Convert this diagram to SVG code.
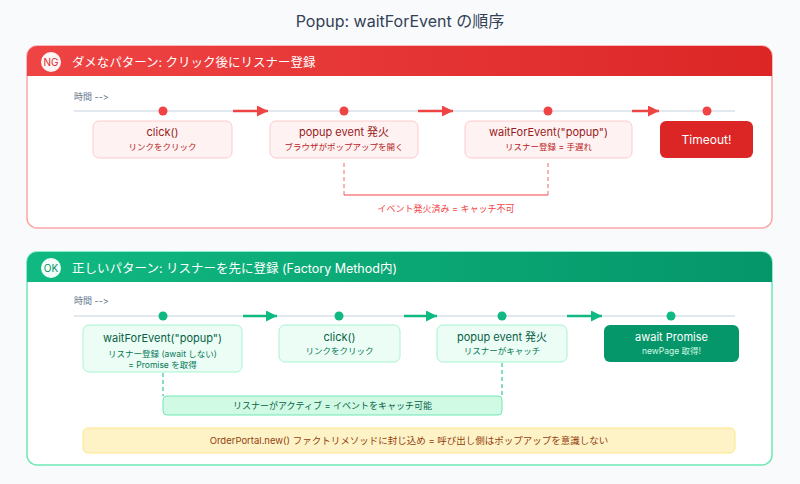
<svg xmlns="http://www.w3.org/2000/svg" width="800" height="484" viewBox="0 0 800 484">
<defs>
<linearGradient id="gNG" x1="0" y1="0" x2="1" y2="0"><stop offset="0" stop-color="#ef4444"/><stop offset="1" stop-color="#dc2626"/></linearGradient>
<linearGradient id="gOK" x1="0" y1="0" x2="1" y2="0"><stop offset="0" stop-color="#10b981"/><stop offset="1" stop-color="#059669"/></linearGradient>
<marker id="aR" viewBox="0 0 10 10" refX="10" refY="5" markerWidth="14" markerHeight="11" markerUnits="userSpaceOnUse" orient="auto"><path d="M0,0 L10,5 L0,10 z" fill="#ef4444"/></marker>
<marker id="aG" viewBox="0 0 10 10" refX="10" refY="5" markerWidth="14" markerHeight="11" markerUnits="userSpaceOnUse" orient="auto"><path d="M0,0 L10,5 L0,10 z" fill="#10b981"/></marker>
<clipPath id="cNG"><rect x="27" y="46" width="745" height="182" rx="10"/></clipPath>
<clipPath id="cOK"><rect x="27" y="252" width="745" height="213" rx="10"/></clipPath>
</defs>
<style>
text{font-family:Inter,"Noto Sans","Noto Sans CJK JP",sans-serif;font-variant-ligatures:none;font-feature-settings:"calt" 0,"liga" 0}
.t{font-size:16px;fill:#334155;text-anchor:middle}
.hd{font-size:12.5px;fill:#fff}
.bdg{font-size:10px;text-anchor:middle}
.time{font-size:9px;fill:#64748b}
.tl{stroke:#e2e8f0;stroke-width:2}
.nbox{fill:#fef2f2;stroke:#fecaca;stroke-width:1}
.obox{fill:#ecfdf5;stroke:#a7f3d0;stroke-width:1}
.nm{font-size:11px;fill:#991b1b;text-anchor:middle}
.ns{font-size:8.5px;fill:#b91c1c;text-anchor:middle}
.om{font-size:11px;fill:#065f46;text-anchor:middle}
.os{font-size:8.5px;fill:#047857;text-anchor:middle}
.ar{stroke:#ef4444;stroke-width:2.5;fill:none;marker-end:url(#aR)}
.ag{stroke:#10b981;stroke-width:2.5;fill:none;marker-end:url(#aG)}
</style>
<rect width="800" height="484" fill="#f8fafc"/>
<text class="t" x="400" y="27">Popup: waitForEvent の順序</text>

<g id="ng-panel">
<rect x="27" y="46" width="745" height="182" rx="10" fill="#fff" stroke="#fca5a5" stroke-width="1.5"/>
<rect x="27" y="46" width="745" height="30" fill="url(#gNG)" clip-path="url(#cNG)"/>
<circle cx="51" cy="62" r="10" fill="#fff" opacity="0.95"/>
<text class="bdg" x="51" y="65.5" fill="#dc2626">NG</text>
<text class="hd" x="72" y="67">ダメなパターン: クリック後にリスナー登録</text>
<text class="time" x="74" y="100">時間 --&gt;</text>
<line class="tl" x1="74" y1="111" x2="735" y2="111"/>
<g fill="#ef4444"><circle cx="163" cy="111" r="4.5"/><circle cx="344" cy="111" r="4.5"/><circle cx="548" cy="111" r="4.5"/><circle cx="707" cy="111" r="4.5"/></g>
</g>

<g id="ng-click"><rect class="nbox" x="93" y="121" width="139" height="37" rx="6"/><text class="nm" x="162.5" y="135.5">click()</text><text class="ns" x="162.5" y="150">リンクをクリック</text></g>
<g id="ng-popup"><rect class="nbox" x="270" y="121" width="148" height="37" rx="6"/><text class="nm" x="344" y="135.5">popup event 発火</text><text class="ns" x="344" y="150">ブラウザがポップアップを開く</text></g>
<g id="ng-wait"><rect class="nbox" x="465" y="121" width="167" height="37" rx="6"/><text class="nm" x="548.5" y="135.5">waitForEvent("popup")</text><text class="ns" x="548.5" y="150">リスナー登録 = 手遅れ</text></g>
<g id="ng-timeout"><rect x="660" y="121" width="93" height="37" rx="6" fill="#dc2626"/><text x="706.5" y="143.5" font-size="12" fill="#fff" text-anchor="middle">Timeout!</text></g>
<g id="ng-note"><text x="446" y="212" font-size="9" fill="#ef4444" text-anchor="middle">イベント発火済み = キャッチ不可</text></g>

<g id="ok-panel">
<rect x="27" y="252" width="745" height="213" rx="10" fill="#fff" stroke="#6ee7b7" stroke-width="1.5"/>
<rect x="27" y="252" width="745" height="30" fill="url(#gOK)" clip-path="url(#cOK)"/>
<circle cx="51" cy="268" r="10" fill="#fff" opacity="0.95"/>
<text class="bdg" x="51" y="271.5" fill="#059669">OK</text>
<text class="hd" x="72" y="273">正しいパターン: リスナーを先に登録 (Factory Method内)</text>
<text class="time" x="74" y="304">時間 --&gt;</text>
<line class="tl" x1="74" y1="316" x2="735" y2="316"/>
<g fill="#10b981"><circle cx="163" cy="316" r="4.5"/><circle cx="339" cy="316" r="4.5"/><circle cx="502" cy="316" r="4.5"/><circle cx="671" cy="316" r="4.5"/></g>
</g>

<g id="ok-wait"><rect class="obox" x="83" y="325" width="159" height="47" rx="6"/><text class="om" x="162.5" y="342">waitForEvent("popup")</text><text class="os" x="162.5" y="357">リスナー登録 (await しない)</text><text class="os" x="162.5" y="367.5">= Promise を取得</text></g>
<g id="ok-click"><rect class="obox" x="279" y="325" width="121" height="37" rx="6"/><text class="om" x="339.5" y="341">click()</text><text class="os" x="339.5" y="353.5">リンクをクリック</text></g>
<g id="ok-popup"><rect class="obox" x="437" y="325" width="130" height="37" rx="6"/><text class="om" x="502" y="341">popup event 発火</text><text class="os" x="502" y="353.5">リスナーがキャッチ</text></g>
<g id="ok-await"><rect x="604" y="325" width="135" height="37" rx="6" fill="#059669"/><text x="671.5" y="341" font-size="11" fill="#fff" text-anchor="middle">await Promise</text><text x="671.5" y="354" font-size="8.5" fill="#d1fae5" text-anchor="middle">newPage 取得!</text></g>
<g id="ok-active"><rect x="163" y="396" width="339" height="19" rx="4" fill="#d1fae5" stroke="#6ee7b7" stroke-width="1"/><text x="332.5" y="409" font-size="9" fill="#065f46" text-anchor="middle">リスナーがアクティブ = イベントをキャッチ可能</text></g>
<g id="ok-note"><rect x="83" y="428" width="652" height="25" rx="5" fill="#fef3c7" stroke="#fde68a" stroke-width="1"/><text x="409" y="444" font-size="9.5" fill="#92400e" text-anchor="middle">OrderPortal.new() ファクトリメソッドに封じ込め = 呼び出し側はポップアップを意識しない</text></g>

<g id="connectors">
<line class="ar" x1="233" y1="111" x2="268" y2="111"/>
<line class="ar" x1="418" y1="111" x2="453" y2="111"/>
<line class="ar" x1="632" y1="111" x2="659" y2="111"/>
<line x1="344" y1="163" x2="344" y2="195" stroke="#ef4444" stroke-width="1" stroke-dasharray="4,3" opacity="0.8"/>
<line x1="548" y1="163" x2="548" y2="195" stroke="#ef4444" stroke-width="1" stroke-dasharray="4,3" opacity="0.8"/>
<line x1="344" y1="195" x2="548" y2="195" stroke="#ef4444" stroke-width="1"/>
<line class="ag" x1="243" y1="316" x2="277" y2="316"/>
<line class="ag" x1="404" y1="316" x2="437" y2="316"/>
<line class="ag" x1="567" y1="316" x2="602" y2="316"/>
<line x1="163" y1="373" x2="163" y2="396" stroke="#10b981" stroke-width="1" stroke-dasharray="4,3"/>
<line x1="502" y1="363" x2="502" y2="396" stroke="#10b981" stroke-width="1" stroke-dasharray="4,3"/>
</g>
</svg>
